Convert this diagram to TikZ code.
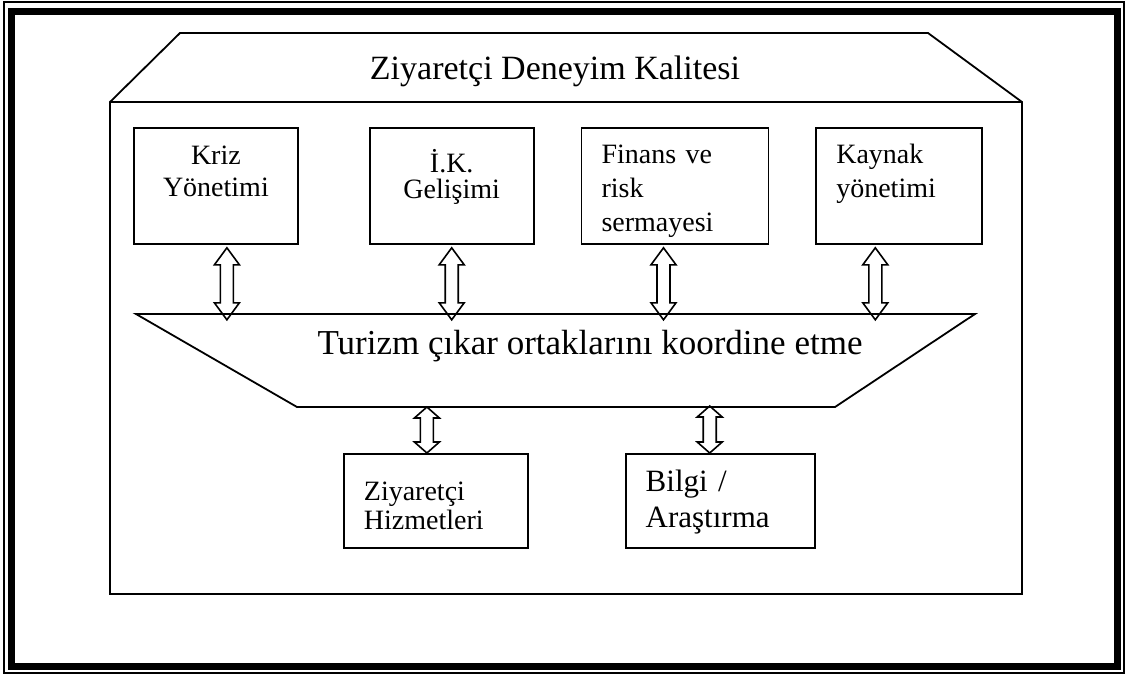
\documentclass[tikz,border=0pt]{standalone}
\usepackage{fontspec}
\setmainfont{Liberation Serif}
\usetikzlibrary{positioning,calc}

% hollow two-way arrow: top tip, bottom tip, head length
\newcommand{\updown}[3]{%
  \draw[harr] (#1) -- ++(12.5,#3) -- ++(-6,0) -- ($(#2)+(6.5,-#3)$) -- ++(6,0)
    -- (#2) -- ++(-12.5,-#3) -- ++(6,0) -- ($(#1)+(-6.5,#3)$) -- ++(-6,0) -- cycle;}

\begin{document}
\begin{tikzpicture}[
    x=0.5pt,y=-0.5pt,
    every node/.style={inner sep=0pt},
    frame/.style={line width=0.9pt},
    box/.style={draw,line width=0.9pt,anchor=north west,inner xsep=10pt,inner ysep=0pt,
                font=\fontsize{14pt}{16pt}\selectfont},
    harr/.style={line width=0.8pt,line join=miter},
    big/.style={font=\fontsize{17pt}{20pt}\selectfont}
]
\useasboundingbox (0,0) rectangle (1130,676);
% page border
\draw[line width=0.75pt] (4,2) rectangle (1124,673);
\draw[line width=3.5pt] (11.5,11.5) rectangle (1117.5,666.5);

% outer shape
\draw[frame] (110,102) -- (180,33) -- (928,33) -- (1022,102) -- (1022,594) -- (110,594) -- cycle;
\draw[frame] (110,102) -- (1022,102);
\node[big,anchor=base] (title) at (555,79) {Ziyaretçi Deneyim Kalitesi};

% top row
\node[box,align=center,text width=62pt,text height=18.5pt,text depth=39.5pt] (kriz) at (133,127) {Kriz\\Yönetimi};
\node[box,align=center,text width=62pt,text height=22.5pt,text depth=35.5pt,
      font=\fontsize{14pt}{13pt}\selectfont,right=35pt of kriz] (ik) {İ.K.\\Gelişimi};
\node[box,align=left,text width=73.5pt,text height=18pt,text depth=40pt,
      font=\fontsize{14pt}{17pt}\selectfont,right=23pt of ik] (finans) {Finans ve\\risk\\sermayesi};
\node[box,align=left,text width=63pt,text height=18pt,text depth=40pt,
      font=\fontsize{14pt}{17pt}\selectfont,right=23pt of finans] (kaynak) {Kaynak\\yönetimi};

% coordination band
\draw[frame] (136,314) -- (975,314) -- (835,407) -- (297,407) -- cycle;
\node[font=\fontsize{17.5pt}{20pt}\selectfont,anchor=base] (coord) at (590,354) {Turizm çıkar ortaklarını koordine etme};

% bottom row
\node[box,align=left,text width=72pt,text height=23.5pt,text depth=23.5pt,
      font=\fontsize{14pt}{14.5pt}\selectfont] (ziy) at (343,453) {Ziyaretçi\\Hizmetleri};
\node[box,align=left,text width=74.5pt,text height=19pt,text depth=28pt,
      font=\fontsize{15.5pt}{18pt}\selectfont,right=48pt of ziy] (bilgi) {Bilgi /\\Araştırma};

% links
\updown{$(kriz.south)+(11,3)$}{$(kriz.south)+(11,75)$}{17}
\updown{$(ik.south)+(0,3)$}{$(ik.south)+(0,75)$}{17}
\updown{$(finans.south)+(-11.5,3)$}{$(finans.south)+(-11.5,75)$}{17}
\updown{$(kaynak.south)+(-24,3)$}{$(kaynak.south)+(-24,75)$}{17}
\updown{$(ziy.north)+(-9,-46)$}{$(ziy.north)+(-9,0)$}{11}
\updown{$(bilgi.north)+(-10.5,-47)$}{$(bilgi.north)+(-10.5,0)$}{11}
\end{tikzpicture}
\end{document}
